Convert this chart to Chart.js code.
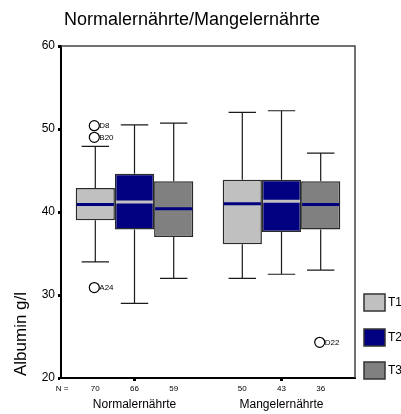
<!DOCTYPE html>
<html>
<head>
<meta charset="utf-8">
<script src="https://cdn.jsdelivr.net/npm/chart.js@4"></script>
<style>
  html, body { margin: 0; padding: 0; background: #fff; }
  #wrap { width: 401px; height: 414px; }
</style>
</head>
<body>
<div id="wrap"><canvas id="c" width="401" height="414"></canvas></div>
<script>
// Albumin (g/l) at three time points, grouped by nutritional status
const categories = ['Normalernährte', 'Mangelernährte'];
const seriesNames = ['T1', 'T2', 'T3'];
const seriesColors = ['#c0c0c0', '#000080', '#808080'];
const medianColors = ['#000080', '#c0c0c0', '#000080'];

// per series: [Normalernährte, Mangelernährte]
const countsT1 = [70, 50];
const countsT2 = [66, 43];
const countsT3 = [59, 36];

const lowT1 = [34.0, 32.0], q1T1 = [39.0, 36.1], medT1 = [40.9, 41.0], q3T1 = [42.9, 43.9], highT1 = [47.9, 52.0];
const lowT2 = [29.0, 32.5], q1T2 = [37.9, 37.6], medT2 = [41.2, 41.3], q3T2 = [44.6, 43.9], highT2 = [50.5, 52.2];
const lowT3 = [32.0, 33.0], q1T3 = [37.0, 37.9], medT3 = [40.4, 40.9], q3T3 = [43.7, 43.7], highT3 = [50.7, 47.1];

// individual outliers: series index, category index, value, case label
const outlierSeries   = [0, 0, 0, 2];
const outlierCategory = [0, 0, 0, 1];
const outlierValues   = [50.4, 49.0, 30.9, 24.3];
const outlierLabels   = ['D8', 'B20', 'A24', 'D22'];

const yTicks = [20, 30, 40, 50, 60];

const stats = [
  { low: lowT1, q1: q1T1, med: medT1, q3: q3T1, high: highT1, n: countsT1 },
  { low: lowT2, q1: q1T2, med: medT2, q3: q3T2, high: highT2, n: countsT2 },
  { low: lowT3, q1: q1T3, med: medT3, q3: q3T3, high: highT3, n: countsT3 }
];

const FONT = "'Liberation Sans', Arial, Helvetica, sans-serif";
Chart.defaults.font.family = FONT;
Chart.defaults.color = '#000';

const boxPlot = {
  id: 'boxPlot',
  beforeDatasetsDraw(chart) {
    const ctx = chart.ctx, y = chart.scales.y;
    ctx.save();
    ctx.strokeStyle = '#1a1a1a';
    ctx.lineWidth = 1.2;
    stats.forEach((s, i) => {
      chart.getDatasetMeta(i).data.forEach((el, j) => {
        const half = el.width * 0.35;
        const yHi = y.getPixelForValue(s.high[j]);
        const yLo = y.getPixelForValue(s.low[j]);
        ctx.beginPath();
        ctx.moveTo(el.x, y.getPixelForValue(s.q3[j]));
        ctx.lineTo(el.x, yHi);
        ctx.moveTo(el.x - half, yHi);
        ctx.lineTo(el.x + half, yHi);
        ctx.moveTo(el.x, y.getPixelForValue(s.q1[j]));
        ctx.lineTo(el.x, yLo);
        ctx.moveTo(el.x - half, yLo);
        ctx.lineTo(el.x + half, yLo);
        ctx.stroke();
      });
    });
    ctx.restore();
  },
  afterDatasetsDraw(chart) {
    const ctx = chart.ctx, y = chart.scales.y;
    ctx.save();
    // medians
    stats.forEach((s, i) => {
      chart.getDatasetMeta(i).data.forEach((el, j) => {
        const ym = y.getPixelForValue(s.med[j]);
        ctx.strokeStyle = medianColors[i];
        ctx.lineWidth = 3;
        ctx.beginPath();
        ctx.moveTo(el.x - el.width / 2 + 1, ym);
        ctx.lineTo(el.x + el.width / 2 - 1, ym);
        ctx.stroke();
      });
    });
    // outliers
    ctx.font = '8px ' + FONT;
    ctx.textAlign = 'left';
    ctx.textBaseline = 'middle';
    outlierValues.forEach((v, k) => {
      const el = chart.getDatasetMeta(outlierSeries[k]).data[outlierCategory[k]];
      const cx = el.x - 1, cy = y.getPixelForValue(v);
      ctx.beginPath();
      ctx.arc(cx, cy, 5, 0, Math.PI * 2);
      ctx.fillStyle = '#fff';
      ctx.fill();
      ctx.strokeStyle = '#000';
      ctx.lineWidth = 1.2;
      ctx.stroke();
      ctx.fillStyle = '#000';
      ctx.fillText(outlierLabels[k], cx + 5, cy + 0.5);
    });
    ctx.restore();
  },
  afterDraw(chart) {
    const ctx = chart.ctx, a = chart.chartArea;
    ctx.save();
    // top and right frame
    ctx.strokeStyle = '#444';
    ctx.lineWidth = 1.5;
    ctx.beginPath();
    ctx.moveTo(a.left, a.top);
    ctx.lineTo(a.right, a.top);
    ctx.lineTo(a.right, a.bottom);
    ctx.stroke();

    // title
    ctx.fillStyle = '#000';
    ctx.font = '18px ' + FONT;
    ctx.textAlign = 'center';
    ctx.textBaseline = 'middle';
    ctx.fillText('Normalernährte/Mangelernährte', 192, 20);

    // y axis title
    ctx.save();
    ctx.translate(21, 334);
    ctx.rotate(-Math.PI / 2);
    ctx.font = '17px ' + FONT;
    ctx.fillText('Albumin g/l', 0, 0);
    ctx.restore();

    // case counts under each box
    ctx.font = '8px ' + FONT;
    ctx.fillText('N =', 62, 389);
    stats.forEach((s, i) => {
      chart.getDatasetMeta(i).data.forEach((el, j) => {
        ctx.fillText(String(s.n[j]), el.x, 389);
      });
    });

    // legend
    const legendTop = [294, 329, 362];
    seriesNames.forEach((name, i) => {
      ctx.fillStyle = seriesColors[i];
      ctx.fillRect(364, legendTop[i], 21, 17);
      ctx.strokeStyle = '#333';
      ctx.lineWidth = 1.5;
      ctx.strokeRect(364, legendTop[i], 21, 17);
      ctx.fillStyle = '#000';
      ctx.font = '12px ' + FONT;
      ctx.textAlign = 'left';
      ctx.fillText(name, 388, legendTop[i] + 9);
    });
    ctx.restore();
  }
};

new Chart(document.getElementById('c'), {
  type: 'bar',
  data: {
    labels: categories,
    datasets: seriesNames.map((name, i) => ({
      label: name,
      data: stats[i].q1.map((v, j) => [v, stats[i].q3[j]]),
      backgroundColor: seriesColors[i],
      borderColor: '#2a2a2a',
      borderWidth: 1.5,
      borderSkipped: false,
      categoryPercentage: 0.8,
      barPercentage: 1.0
    }))
  },
  options: {
    responsive: false,
    animation: false,
    layout: { padding: { left: 0, right: 46, top: 46, bottom: 0 } },
    plugins: {
      legend: { display: false },
      title: { display: false },
      tooltip: { enabled: false }
    },
    scales: {
      x: {
        afterFit(scale) { scale.height = 36; },
        grid: { display: true, drawOnChartArea: false, offset: false, tickLength: 3, tickWidth: 3, tickColor: '#000' },
        border: { display: true, color: '#000', width: 2 },
        ticks: { font: { size: 12 }, color: '#000', padding: 16, maxRotation: 0 }
      },
      y: {
        min: 20,
        max: 60,
        afterFit(scale) { scale.width = 61; },
        afterBuildTicks(scale) { scale.ticks = yTicks.map(v => ({ value: v })); },
        grid: { display: true, drawOnChartArea: false, tickLength: 3, tickWidth: 3, tickColor: '#000' },
        border: { display: true, color: '#000', width: 2 },
        ticks: { font: { size: 12 }, color: '#000', padding: 3 }
      }
    }
  },
  plugins: [boxPlot]
});
</script>
</body>
</html>
